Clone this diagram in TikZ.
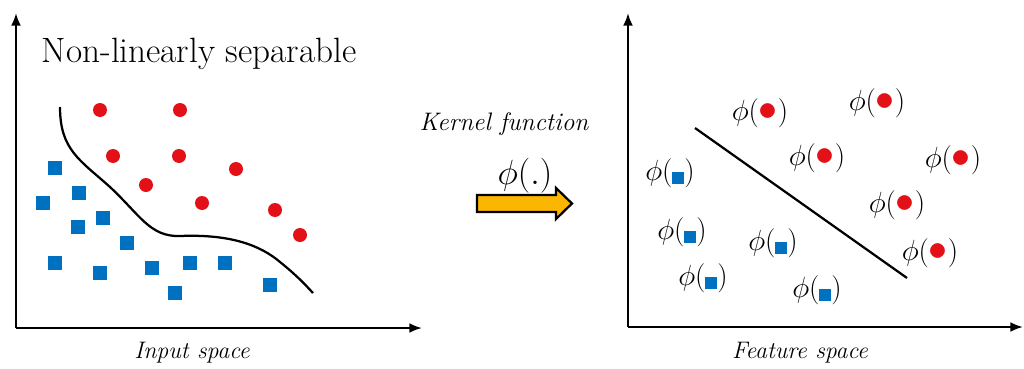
\documentclass[tikz,border=0pt]{standalone}
\usepackage{xcolor}
\usepackage{tikz}
\usetikzlibrary{arrows.meta, positioning, calc}
\usepackage{amsmath}
\definecolor{ptred}{RGB}{228, 16, 24}
\definecolor{ptblue}{RGB}{0, 112, 192}
\definecolor{kgold}{RGB}{250, 182, 0}

\newcommand{\reddot}{\textcolor{ptred}{\scalebox{1.3}{$\bullet$}}}
\newcommand{\bluesq}{\textcolor{ptblue}{\rule[-0.3ex]{8.5pt}{8.5pt}}}

\begin{document}
\begin{tikzpicture}[
    x=0.025cm, y=-0.025cm,
    axis/.style={line width=1.5pt, -{Latex[length=9pt, width=7pt]}},
    reddot/.style={circle, fill=ptred, minimum size=14*0.025cm, inner sep=0pt},
    bluesq/.style={rectangle, fill=ptblue, minimum size=14*0.025cm, inner sep=0pt},
    philbl/.style={font=\fontsize{22}{26}\selectfont, inner sep=0pt},
    capt/.style={font=\fontsize{17}{20}\selectfont\itshape, anchor=base}
  ]
  \useasboundingbox (0,0) rectangle (1024,368);

  % Input space
  \coordinate (o1) at (16,328);
  \draw[axis] (o1) -- (16,13);
  \draw[axis] (o1) -- (422,328);
  \node[font=\fontsize{25}{30}\selectfont, anchor=base west] (title) at (37,62) {Non-linearly separable};

  \foreach \x/\y [count=\i] in {100/110, 180/110, 113/156, 179/156, 146/185, 236/169, 202/203, 275/210, 300/235} {
    \node[reddot] (a\i) at (\x,\y) {};
  }
  \foreach \x/\y [count=\i] in {55/168, 79/193, 43/203, 103/218, 78/227, 127/243, 55/263, 100/273, 152/268, 190/263, 225/263, 175/293, 270/285} {
    \node[bluesq] (b\i) at (\x,\y) {};
  }

  % Decision boundary
  \draw[line width=1.6pt] (60,107) .. controls (60,150) and (80,160) .. (110,187)
    .. controls (140,215) and (150,237) .. (180,236)
    .. controls (230,234) and (260,245) .. (280,262)
    .. controls (300,278) and (310,290) .. (313,293);

  \node[capt] (inlbl) at (192,358) {Input space};

  % Kernel function
  \draw[line width=1.6pt, fill=kgold] (477,195) -- (556,195) -- (556,188) -- (572,203.5)
    -- (556,219) -- (556,212) -- (477,212) -- cycle;
  \node[font=\fontsize{18}{22}\selectfont\itshape, anchor=base] (kern) at (504,130) {Kernel function};
  \node[font=\fontsize{24}{28}\selectfont, anchor=base] (phidot) at (525,184) {$\phi(.)$};

  % Feature space
  \coordinate (o2) at (628,327);
  \draw[axis] (o2) -- (628,13);
  \draw[axis] (o2) -- (1023,327);
  \draw[line width=1.6pt] (695,128) -- (907,278);

  \foreach \x/\y [count=\i] in {760/113, 877/103, 817/158, 953/160, 897/205, 930/253} {
    \node[philbl] (r\i) at (\x,\y) {$\phi($\reddot$)$};
  }
  \foreach \x/\y [count=\i] in {670/173, 682/232, 773/243, 703/278, 817/290} {
    \node[philbl] (s\i) at (\x,\y) {$\phi($\bluesq$)$};
  }

  \node[capt] (ftlbl) at (800,358) {Feature space};

\end{tikzpicture}
\end{document}
